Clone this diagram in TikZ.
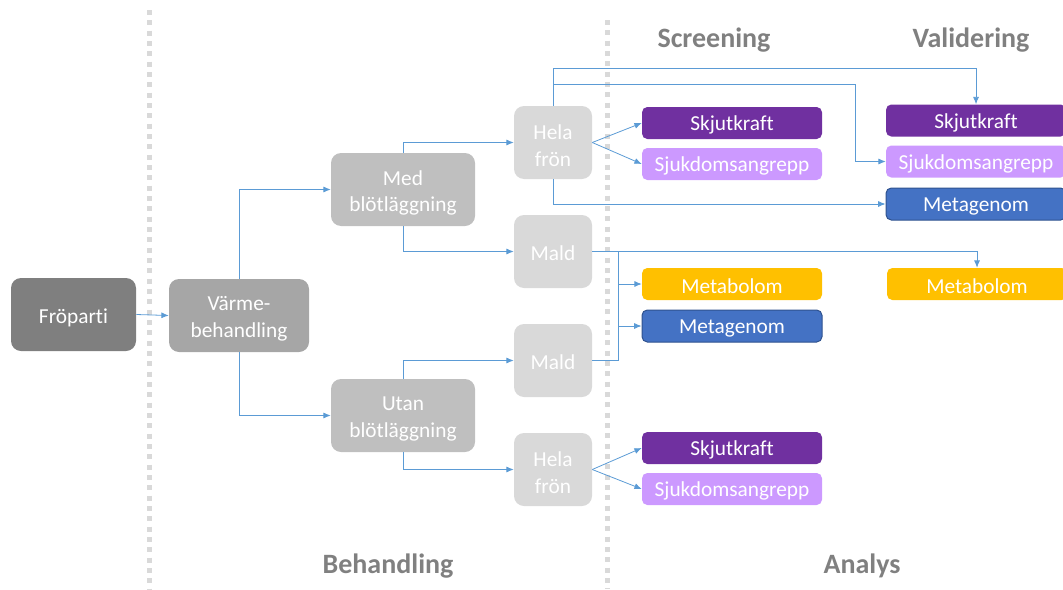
\documentclass[tikz,border=0pt]{standalone}
\usepackage{fontspec}
\setmainfont{Carlito}[Ligatures=NoCommon]
\usetikzlibrary{arrows.meta}
\definecolor{conn}{HTML}{5B9BD5}
\definecolor{hdr}{HTML}{808080}
\definecolor{dotc}{HTML}{D9D9D9}
\definecolor{c1}{HTML}{7F7F7F}
\definecolor{c2}{HTML}{A6A6A6}
\definecolor{c3}{HTML}{BFBFBF}
\definecolor{c4}{HTML}{D9D9D9}
\definecolor{purp}{HTML}{7030A0}
\definecolor{lilac}{HTML}{CC99FF}
\definecolor{gold}{HTML}{FFC000}
\definecolor{blu}{HTML}{4472C4}
\definecolor{bluedge}{HTML}{2F528F}
\begin{document}
\begin{tikzpicture}[x=0.75pt,y=-0.75pt,
  bigbox/.style={rounded corners=7.5pt, inner sep=0pt, minimum height=54.75pt},
  btext/.style={text=white, align=center, inner sep=0pt, yshift=-2.5pt,
    font=\fontsize{16}{20}\selectfont},
  anbox/.style={rounded corners=4pt, text=white, align=center, inner sep=0pt,
    minimum width=135pt, minimum height=24pt, font=\fontsize{16}{20}\selectfont,
    execute at begin node={\rule{0pt}{14.5pt}}},
  hdrtext/.style={text=hdr, font=\fontsize{21}{24}\selectfont\bfseries},
  conline/.style={draw=conn, line width=0.6pt},
  arr/.style={conline, -{Latex[length=5.5pt,width=4.5pt]}},
  dotline/.style={draw=dotc, line width=3.75pt, dash pattern=on 3.75pt off 4pt}
]
\useasboundingbox (0,0) rectangle (1063,589);
% dotted separators
\draw[dotline] (149,10) -- (149,589);
\draw[dotline] (607,20) -- (607,589);
% headers
\node[hdrtext] (hscr) at (714,40) {Screening};
\node[hdrtext] (hval) at (971,40) {Validering};
\node[hdrtext] (hbeh) at (388,566) {Behandling};
\node[hdrtext] (hana) at (862,566) {Analys};
% treatment boxes
\node[bigbox, fill=c1, minimum width=93.75pt] (fro) at (73.5,314.5) {};
\node[btext] (frot) at (fro.center) {Fröparti};
\node[bigbox, fill=c2, minimum width=105pt] (varme) at (239,315.5) {};
\node[btext] (varmet) at (varme.center) {Värme-\\behandling};
\node[bigbox, fill=c3, minimum width=108pt] (med) at (403,189.5) {};
\node[btext] (medt) at (med.center) {Med\\blötläggning};
\node[bigbox, fill=c3, minimum width=108pt] (utan) at (403,415.5) {};
\node[btext] (utant) at (utan.center) {Utan\\blötläggning};
\node[bigbox, fill=c4, minimum width=58.5pt] (hela1) at (553,142.5) {};
\node[btext] (hela1t) at (hela1.center) {Hela\\frön};
\node[bigbox, fill=c4, minimum width=58.5pt] (mald1) at (553,251.5) {};
\node[btext, yshift=1pt] (mald1t) at (mald1.center) {Mald};
\node[bigbox, fill=c4, minimum width=58.5pt] (mald2) at (553,360.5) {};
\node[btext, yshift=1pt] (mald2t) at (mald2.center) {Mald};
\node[bigbox, fill=c4, minimum width=58.5pt] (hela2) at (553,469.5) {};
\node[btext] (hela2t) at (hela2.center) {Hela\\frön};
% screening boxes
\node[anbox, fill=purp] (sskj1) at (732,123) {Skjutkraft};
\node[anbox, fill=lilac] (ssju1) at (732,164) {Sjukdomsangrepp};
\node[anbox, fill=gold] (smetb) at (732,284) {Metabolom};
\node[anbox, fill=blu, draw=bluedge, line width=0.75pt] (smetg) at (732,326) {Metagenom};
\node[anbox, fill=purp] (sskj2) at (732,448) {Skjutkraft};
\node[anbox, fill=lilac] (ssju2) at (732,489) {Sjukdomsangrepp};
% validation boxes
\node[anbox, fill=purp] (vskj) at (976,120.5) {Skjutkraft};
\node[anbox, fill=lilac] (vsju) at (976,161.5) {Sjukdomsangrepp};
\node[anbox, fill=blu, draw=bluedge, line width=0.75pt] (vmetg) at (976,204) {Metagenom};
\node[anbox, fill=gold] (vmetb) at (977,284) {Metabolom};
% connectors
\draw[arr] (fro.east) -- (varme.west);
\draw[arr] (varme.north) |- (med.west);
\draw[arr] (varme.south) |- (utan.west);
\draw[arr] (med.north) |- (hela1.west);
\draw[arr] (med.south) |- (mald1.west);
\draw[arr] (utan.north) |- (mald2.west);
\draw[arr] (utan.south) |- (hela2.west);
\draw[arr] (hela1.east) -- (sskj1.west);
\draw[arr] (hela1.east) -- (ssju1.west);
\draw[arr] (hela2.east) -- (sskj2.west);
\draw[arr] (hela2.east) -- (ssju2.west);
\coordinate (t1) at (553,68);
\coordinate (b2) at (553,84);
\coordinate (t2) at (855,100);
\draw[arr] (hela1.north) -- (t1) -| (vskj.north);
\draw[arr] (b2) -| (t2) |- (vsju.west);
\draw[arr] (hela1.south) |- (vmetg.west);
\draw[arr] (mald1.east) -| (vmetb.north);
\coordinate (sp1) at (618,251.5);
\coordinate (sp2) at (618,360.5);
\draw[conline] (mald2.east) -- (sp2) -- (sp1);
\draw[arr] (sp1) |- (smetb.west);
\draw[arr] (sp1) |- (smetg.west);
\end{tikzpicture}
\end{document}
